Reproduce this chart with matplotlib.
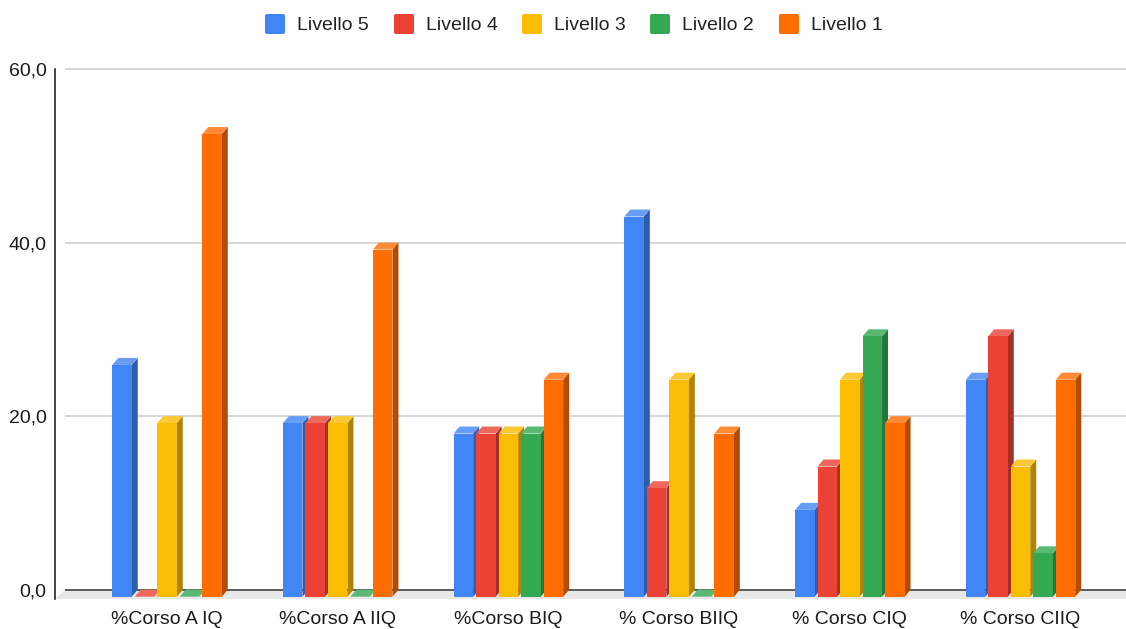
import numpy as np
import matplotlib
matplotlib.use("Agg")
import matplotlib.pyplot as plt
from matplotlib.patches import Polygon, FancyBboxPatch

W, H = 1126, 629
plt.rcParams["font.family"] = ["Liberation Sans", "DejaVu Sans"]

categories = ["%Corso A IQ", "%Corso A IIQ", "%Corso BIQ", "% Corso BIIQ", "% Corso CIQ", "% Corso CIIQ"]
livello5 = [26.7, 20.0, 18.8, 43.8, 10.0, 25.0]
livello4 = [0.0, 20.0, 18.8, 12.5, 15.0, 30.0]
livello3 = [20.0, 20.0, 18.8, 25.0, 25.0, 15.0]
livello2 = [0.0, 0.0, 18.8, 0.0, 30.0, 5.0]
livello1 = [53.3, 40.0, 25.0, 18.8, 20.0, 25.0]
ytick_vals = [0, 20, 40, 60]
ytick_lbl = ["0,0", "20,0", "40,0", "60,0"]

names = ["Livello 5", "Livello 4", "Livello 3", "Livello 2", "Livello 1"]
series = [livello5, livello4, livello3, livello2, livello1]
colors = ["#4285F4", "#EA4335", "#FBBC04", "#34A853", "#FF6D01"]
tops = ["#689DF6", "#EE685D", "#FCC936", "#5CB975", "#FF8A34"]
sides = ["#2E5DAB", "#A42F25", "#B08403", "#247639", "#B34C01"]

# pixel geometry of the picture
PX_X = 170.7   # px per category
PX_Y = 8.68    # px per unit
X0, Y0 = 167.0, 596.7   # px of category 0 / value 0 on the front plane
DX = 6 / PX_X
DY = 7 / PX_Y
BW = 19.5 / PX_X
STEP = 22.5 / PX_X

fig = plt.figure(figsize=(W / 100, H / 100), dpi=100, facecolor="white")
ax = fig.add_axes([55 / W, (H - 599) / H, (W - 55) / W, (599 - 60) / H])
ax.set_xlim((55 - X0) / PX_X, (W - X0) / PX_X)
ax.set_ylim((Y0 - 599) / PX_Y, (Y0 - 60) / PX_Y)
xa, xb = ax.get_xlim()
ya = ax.get_ylim()[0]

# floor and grid sit on the back plane
ax.add_patch(Polygon([(xa, ya), (xa + 10 / PX_X, DY), (xb, DY), (xb, ya)], fc="#E8E8E8", ec="none", zorder=1))
for v in ytick_vals:
    ax.hlines(v + DY, xa + 10 / PX_X, xb, color="#333333" if v == 0 else "#CCCCCC", lw=1.1, zorder=2)

z = 3
for c in range(len(categories)):
    for i in range(len(series)):
        v = series[i][c]
        x = c + (i - 2) * STEP - BW / 2
        ax.add_patch(Polygon([(x + BW, 0), (x + BW + DX, DY), (x + BW + DX, v + DY), (x + BW, v)], fc=sides[i], ec="none", zorder=z))
        ax.add_patch(Polygon([(x, v), (x + DX, v + DY), (x + BW + DX, v + DY), (x + BW, v)], fc=tops[i], ec="none", zorder=z))
        ax.bar(x + BW / 2, v, BW, color=colors[i], zorder=z + 0.5)
        z += 1

for s in ["top", "right", "bottom"]:
    ax.spines[s].set_visible(False)
ax.spines["left"].set_bounds(ya, 60 + DY)
ax.spines["left"].set_linewidth(1.1)
ax.spines["left"].set_color("#111111")
ax.set_yticks([v + DY for v in ytick_vals])
ax.set_yticklabels(ytick_lbl, fontsize=14, color="#1a1a1a")
ax.set_xticks(range(len(categories)))
ax.set_xticklabels(categories, fontsize=14, color="#1a1a1a")
ax.tick_params(axis="y", length=0, pad=6)
ax.tick_params(axis="x", length=0, pad=9)

# legend along the top
swatch_x = [265, 394, 522, 650, 779]
for i in range(len(names)):
    x = swatch_x[i]
    fig.add_artist(FancyBboxPatch((x + 2, H - 32), 16, 16, boxstyle="round,pad=2,rounding_size=2",
                                  transform=None, fc=colors[i], ec="none"))
    fig.text((x + 32) / W, 1 - 25 / H, names[i], fontsize=14, color="#222222", va="center", ha="left")

plt.savefig("out.png", dpi=100, facecolor="white")
